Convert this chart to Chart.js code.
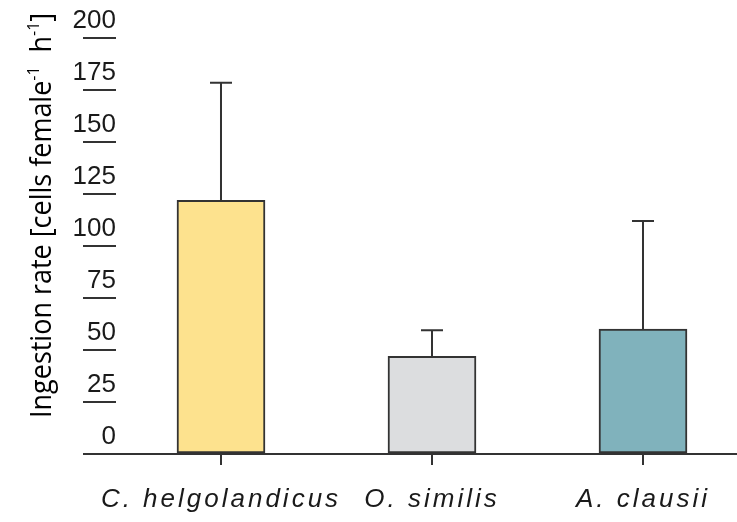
<!DOCTYPE html>
<html>
<head>
<meta charset="utf-8">
<script src="https://cdn.jsdelivr.net/npm/chart.js@4.4.1/dist/chart.umd.min.js"></script>
<style>
	html, body { margin: 0; padding: 0; background: #fff; }
	#wrap { width: 737px; height: 522px; position: relative; }
</style>
</head>
<body>
<div id="wrap"><canvas id="ingestionChart"></canvas></div>
<script>
const species = ['C. helgolandicus', 'O. similis', 'A. clausii'];
const ingestion = [122, 47, 60];
const ingestionErr = [56.5, 12.5, 52];
const barColors = ['#fde28e', '#dcdddf', '#80b2bc'];
const yTicks = [0, 25, 50, 75, 100, 125, 150, 175, 200];
const yTitleParts = [
	{ text: 'Ingestion rate [cells female', sup: false },
	{ text: '-1', sup: true },
	{ text: '  h', sup: false },
	{ text: '-1', sup: true },
	{ text: ']', sup: false }
];

(() => {
	'use strict'

	const ink = '#333';
	const ctxEl = document.getElementById('ingestionChart');

	// draws the one-sided error bars and switches on letter spacing for the x labels
	const errorBars = {
		id: 'errorBars',
		afterDatasetsDraw(chart) {
			const ctx = chart.ctx;
			const x = chart.scales.x;
			const y = chart.scales.y;

			ctx.save();
			ctx.strokeStyle = ink;
			ctx.lineWidth = 2;
			ingestion.forEach((value, i) => {
				const px = x.getPixelForValue(i);
				const yBar = y.getPixelForValue(value);
				const yTop = y.getPixelForValue(value + ingestionErr[i]);
				ctx.beginPath();
				ctx.moveTo(px, yBar);
				ctx.lineTo(px, yTop);
				ctx.moveTo(px - 11, yTop);
				ctx.lineTo(px + 11, yTop);
				ctx.stroke();
			});
			ctx.restore();

			ctx.letterSpacing = '3px';
		},
		afterDraw(chart) {
			const ctx = chart.ctx;
			ctx.letterSpacing = '0px';

			// rotated axis title with real superscripts
			const big = '29px "Open Sans"';
			const small = '17px "Open Sans"';
			let total = 0;
			yTitleParts.forEach((part) => {
				ctx.font = part.sup ? small : big;
				total += ctx.measureText(part.text).width;
			});

			ctx.save();
			ctx.translate(51, 418);
			ctx.rotate(-Math.PI / 2);
			ctx.scale(405 / total, 1);
			ctx.fillStyle = '#000';
			ctx.textBaseline = 'alphabetic';
			let pos = 0;
			yTitleParts.forEach((part) => {
				ctx.font = part.sup ? small : big;
				ctx.fillText(part.text, pos, part.sup ? -12 : 0);
				pos += ctx.measureText(part.text).width;
			});
			ctx.restore();
		}
	};

	new Chart(ctxEl, {
		type: 'bar',
		data: {
			datasets: [{
				data: species.map((name, i) => ({ x: i, y: ingestion[i] })),
				backgroundColor: barColors,
				borderColor: ink,
				borderWidth: 2,
				borderSkipped: false,
				barThickness: 88
			}]
		},
		options: {
			responsive: true,
			maintainAspectRatio: false,
			animation: false,
			layout: {
				padding: { top: 38, left: 0, right: 0, bottom: 0 }
			},
			plugins: {
				legend: { display: false },
				tooltip: { enabled: false }
			},
			scales: {
				x: {
					type: 'linear',
					offset: false,
					min: -0.4976,
					max: 2.4455,
					afterBuildTicks: (scale) => {
						scale.ticks = species.map((name, i) => ({ value: i }));
					},
					afterFit: (scale) => {
						scale.height = 68;
					},
					border: { display: true, color: ink, width: 2 },
					grid: {
						offset: false,
						drawOnChartArea: false,
						drawTicks: true,
						tickLength: 11,
						color: ink,
						lineWidth: 2
					},
					ticks: {
						z: 1,
						padding: 19,
						color: '#1a1a1a',
						maxRotation: 0,
						autoSkip: false,
						font: { family: '"Liberation Sans", Arial', size: 26, style: 'italic' },
						callback: (value) => species[value] ?? ''
					}
				},
				y: {
					min: 0,
					max: 200,
					afterBuildTicks: (scale) => {
						scale.ticks = yTicks.map((v) => ({ value: v }));
					},
					afterFit: (scale) => {
						scale.width = 116;
					},
					border: { display: false },
					grid: {
						drawOnChartArea: false,
						drawTicks: true,
						tickLength: 33,
						color: ink,
						lineWidth: 2
					},
					ticks: {
						padding: -33,
						labelOffset: -17,
						color: '#1a1a1a',
						font: { family: '"Liberation Sans", Arial', size: 26 }
					}
				}
			}
		},
		plugins: [errorBars]
	});
})()
</script>
</body>
</html>
